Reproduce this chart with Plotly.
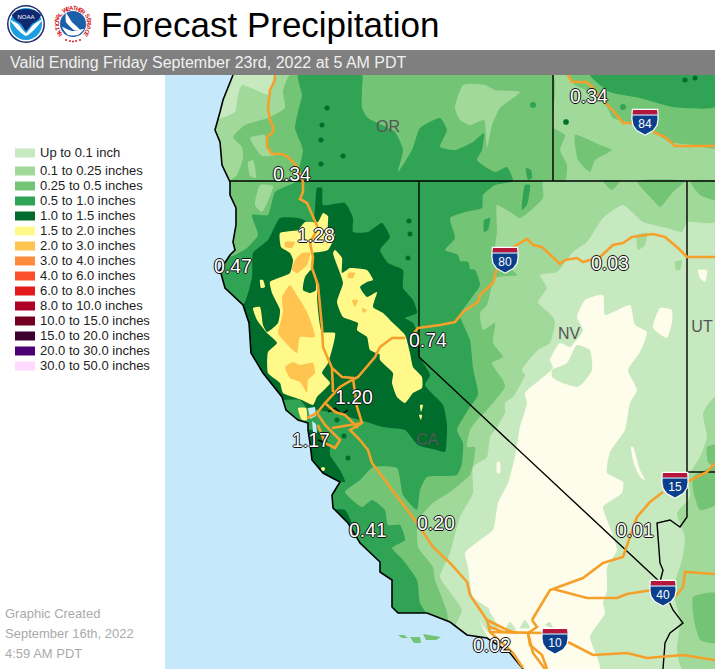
import plotly.graph_objects as go
import math

# ---------- legend ----------
LEGEND_LABELS = ["Up to 0.1 inch","0.1 to 0.25 inches","0.25 to 0.5 inches","0.5 to 1.0 inches","1.0 to 1.5 inches",
                 "1.5 to 2.0 inches","2.0 to 3.0 inches","3.0 to 4.0 inches","4.0 to 6.0 inches","6.0 to 8.0 inches",
                 "8.0 to 10.0 inches","10.0 to 15.0 inches","15.0 to 20.0 inches","20.0 to 30.0 inches","30.0 to 50.0 inches"]
LEGEND_COLORS = ["#c7e9c0","#a1d99b","#74c476","#31a354","#006d2c","#fff98a","#fec44f","#fe8c3c","#fc4e2a","#e31a1c",
                 "#b10026","#730022","#3d0030","#4a0073","#ffd9ff"]
LEGEND_Y = [153,171,186,201,216,231,246,261,276,291,306,321,336,351,366]

SEA = "#c5e8fb"
CREAM = "#fefdeb"
ROAD = "#f5a02a"

# ---------- map geometry (screen units) ----------
COAST = [(233,75),(228,88),(223,100),(220,112),(215,130),(220,142),(222,165),(230,182),(230,195),(236,208),(236,225),
         (233,242),(235,250),(230,255),(220,270),(225,288),(243,305),(249,323),(251,353),(263,373),(282,397),(286,410),
         (298,420),(308,423),(308,430),(310,443),(312,460),(323,473),(340,482),(332,495),(333,508),(348,523),(360,543),
         (380,562),(380,572),(392,580),(392,607),(398,613),(427,613),(450,622),(467,635),(487,638),(510,653),(523,669),
         (165,669),(165,75)]
BAY = [[(308,408),(315,407),(316,416),(310,419)],[(312,421),(316,424),(317,433),(313,432)]]
ISLANDS = [[(398,635),(404,635),(408,638),(402,638)],[(410,637),(420,637),(421,643),(414,643)],
           [(423,634),(433,636),(441,637),(436,640),(426,640)]]

CREAM_POLYS = [
 [(585,300),(603,295),(605,315),(630,305),(635,325),(647,332),(640,352),(628,370),(637,390),(630,403),(625,430),(610,452),
  (607,473),(623,482),(622,493),(603,507),(607,520),(617,550),(607,567),(607,590),(603,603),(605,613),(590,637),(597,657),
  (600,669),(525,669),(505,650),(490,640),(480,620),(490,610),(473,597),(468,567),(465,553),(480,540),(493,530),(498,503),
  (508,483),(515,457),(520,427),(527,403),(525,393),(553,368),(550,360),(560,343),(570,347),(583,330),(577,317)],
 [(660,308),(672,310),(672,322),(667,338),(653,328)],
 [(698,270),(707,270),(705,282),(700,278)],
 [(497,462),(500,462),(500,473),(497,473)],
 [(631,447),(633,447),(640,470),(645,480),(641,478),(634,464)],
]
LIGHT_PATCHES = [
 [(552,370),(567,363),(577,345),(590,350),(592,370),(583,383),(577,387),(560,382),(552,377)],
 [(605,505),(618,500),(632,515),(637,525),(628,530),(615,522)],
 [(480,620),(488,610),(498,628),(488,632)],
 [(505,630),(510,622),(516,630)],[(520,628),(525,620),(530,628)],[(545,625),(550,622),(553,628)],
]
BAND_025 = [
 [(455,627),(462,610),(450,592),(440,577),(450,553),(460,517),(473,493),(473,467),(487,457),(490,437),(497,427),(505,413),
  (505,403),(513,397),(525,375),(522,370),(538,350),(550,343),(555,323),(553,317),(538,302),(547,288),(540,275),(557,272),
  (573,252),(587,242),(603,218),(623,205),(643,222),(667,228),(682,232),(687,222),(715,222),(715,75),(275,75),(270,95),
  (242,85),(238,95),(235,112),(222,118),(200,130),(200,640),(455,640)],
 [(715,397),(703,413),(707,437),(700,457),(688,477),(690,497),(677,513),(685,537),(682,560),(673,590),(680,620),(677,650),
  (682,669),(715,669)],
 [(637,235),(647,233),(645,245),(638,250)],
 [(675,262),(682,260),(680,270),(676,270)],
]
BAND_05 = [
 [(290,75),(553,75),(553,127),(565,135),(560,150),(567,165),(565,181),(543,181),(543,198),(520,218),(510,212),(497,205),
  (497,232),(495,255),(517,275),(495,278),(487,305),(480,313),(483,330),(495,323),(493,343),(503,357),(492,363),(503,380),
  (505,387),(487,410),(477,420),(470,430),(467,447),(475,447),(473,465),(470,475),(450,492),(433,503),(418,520),(418,547),
  (433,567),(435,580),(447,612),(447,640),(200,640),(200,200),(228,182),(237,175),(243,158),(242,147),(233,137),(245,125),
  (268,118),(285,108),(283,92)],
 [(568,75),(575,85),(597,95),(607,107),(613,118),(640,125),(653,132),(670,142),(693,145),(715,148),(715,75)],
 [(575,135),(600,145),(612,150),(595,160),(590,172),(578,160)],
 [(637,181),(653,200),(660,207),(673,192),(685,181)],
 [(690,181),(715,181),(715,200),(700,195)],
 [(603,181),(620,181),(612,190)],
 [(693,477),(715,467),(715,505),(700,510),(693,490)],
 [(707,447),(715,445),(715,467),(708,462)],
 [(693,597),(715,593),(715,643),(700,640),(694,620)],
]
BAND_025_ON_05 = [
 [(455,108),(463,85),(485,85),(495,90),(520,92),(500,108),(492,125),(487,148),(484,120),(470,125),(460,120)],
 [(250,138),(265,135),(267,148),(275,155),(262,156)],
 [(248,162),(253,160),(256,178),(250,176)],
 [(260,185),(273,186),(262,212),(255,205)],
]
BAND_1 = [
 [(298,75),(362,75),(362,88),(362,108),(368,118),(395,132),(403,150),(398,172),(412,150),(420,128),(440,118),(447,130),
  (440,147),(455,150),(473,142),(484,133),(482,150),(477,160),(495,172),(507,167),(513,181),(495,185),(483,195),(482,208),
  (465,212),(450,218),(455,238),(445,250),(458,255),(462,268),(475,270),(480,285),(470,300),(460,315),(470,340),(473,368),
  (478,395),(468,410),(457,430),(463,443),(462,463),(457,475),(427,477),(420,490),(417,510),(403,495),(397,468),(373,467),
  (360,480),(345,492),(362,507),(372,500),(385,510),(388,525),(400,525),(405,540),(392,548),(403,560),(417,580),(420,603),
  (427,615),(425,640),(200,640),(200,270),(235,255),(247,248),(258,235),(252,215),(268,215),(275,192),(295,182),(298,172),
  (303,150),(295,128),(298,112),(302,95)],
 [(590,75),(610,92),(640,98),(673,107),(715,107),(715,75)],
 [(414,150),(432,160),(432,180),(419,180)] ,
 [(525,185),(530,185),(527,205),(522,210)],[(526,168),(531,170),(532,178),(528,180)],
 [(484,220),(490,218),(488,230),(484,232)],[(458,262),(468,262),(470,272),(460,275)],
]
BAND_15 = [
 [(317,188),(322,188),(323,205),(345,203),(353,218),(353,232),(368,232),(382,223),(390,237),(380,250),(388,263),(403,270),
  (403,288),(413,300),(417,313),(405,318),(413,323),(418,333),(420,357),(430,375),(425,385),(443,405),(447,425),(445,452),
  (437,450),(418,445),(405,430),(383,427),(360,420),(330,412),(318,410),(307,408),(300,400),(280,400),(200,400),(200,310),
  (243,305),(252,277),(253,253),(268,240),(280,218),(298,218),(313,222)],
 [(305,430),(320,432),(330,445),(330,455),(340,470),(345,482),(310,470)],
 [(333,510),(345,510),(352,525),(340,525)],
]
DARK_SPOTS_X = [327,322,321,343,321,409,410,408,348,685,695,566,337,344]
DARK_SPOTS_Y = [108,125,140,156,164,221,234,258,458,80,78,122,420,436]
GREEN_SPOTS_X = [566,475,623,533]
GREEN_SPOTS_Y = [122,288,107,105]
YELLOW = [
 [(280,233),(281,247),(290,253),(293,260),(290,273),(270,282),(272,293),(280,310),(278,323),(267,332),(263,325),(260,307),
  (253,308),(257,320),(267,333),(277,343),(268,352),(268,373),(280,383),(283,393),(302,400),(313,405),(317,397),(330,383),
  (322,373),(328,363),(335,333),(322,332),(317,297),(318,283),(312,268),(313,253),(320,252),(328,250),(332,243),(335,235),
  (328,228),(328,216),(323,213),(318,222),(305,222),(298,230)],
 [(335,250),(342,258),(342,273),(350,268),(367,270),(373,280),(367,282),(360,287),(367,297),(377,292),(373,307),(383,313),
  (393,323),(405,335),(410,353),(413,367),(422,377),(422,388),(413,393),(405,403),(397,397),(392,383),(393,373),(380,360),
  (380,353),(388,357),(370,350),(367,337),(357,330),(358,323),(343,317),(337,302),(343,283),(340,273),(333,253)],
 [(298,408),(306,408),(307,420),(302,420)],
 [(260,280),(263,280),(265,287),(261,288)],
 [(420,405),(423,405),(421,412)],[(419,415),(422,415),(421,420)],
]
DARK_ON_YELLOW = [[(303,290),(305,277),(313,268),(316,290),(310,293)]]
ORANGE = [
 [(290,285),(298,297),(307,312),(315,337),(300,337),(297,353),(283,340),(278,333),(282,317),(283,310),(282,297)],
 [(285,367),(293,362),(300,365),(313,363),(315,373),(308,380),(307,393),(300,382),(290,378)],
 [(302,253),(310,253),(307,265),(297,273),(292,270),(295,260)],
 [(285,242),(295,242),(292,248),(285,247)],
 [(348,273),(355,273),(353,278),(348,278)],
 [(352,300),(358,300),(355,307)],
 [(362,308),(367,310),(363,313)],
]

ROADS = [
 [(275,75),(275,80),(270,90),(268,108),(270,120),(273,127),(273,132),(267,137),(267,147),(272,154),(282,154),(288,157),
  (298,168),(303,182),(303,192),(300,199),(307,203),(313,217),(318,228),(310,243),(313,257),(312,268),(318,285),(322,327),
  (323,347),(332,368),(342,377),(353,378),(357,407),(362,423),(350,430),(360,440),(368,450),(372,463),(397,497),(417,523),
  (433,547),(450,563),(467,582),(470,595),(487,620),(490,632),(543,633)],
 [(332,368),(333,392)],
 [(405,338),(392,338),(380,347),(375,357),(358,377),(352,380),(340,387),(325,403),(317,413),(307,418)],
 [(325,403),(335,412),(345,415),(358,428)],
 [(317,413),(325,425),(340,440),(335,448),(325,443),(318,425)],
 [(332,428),(362,423)],
 [(410,338),(418,328),(440,325),(455,322),(463,312),(478,302),(480,295),(493,283),(497,268)],
 [(512,248),(527,239),(533,245),(542,247),(560,264),(565,260),(577,258),(583,262),(600,257),(613,245),(623,243),(632,237),
  (653,234),(665,237),(678,248),(687,257),(715,257)],
 [(568,75),(572,82),(587,82),(593,88),(605,102),(615,113),(623,123),(635,123)],
 [(653,132),(665,137),(675,146),(715,146)],
 [(568,642),(593,655),(627,653),(647,658),(683,655),(715,660)],
 [(532,620),(550,590),(583,578),(603,563),(623,557),(630,538),(637,517),(650,502),(663,492)],
 [(687,482),(707,472),(715,463)],
 [(553,589),(587,598),(617,598),(627,594),(652,590)],
 [(675,597),(683,587),(685,572),(715,574)],
 [(532,620),(537,627),(528,633),(530,645),(542,655),(547,669)],
 [(528,633),(533,653),(545,669)],
 [(487,620),(507,630),(517,633)],
 [(488,626),(503,632)],
 [(490,632),(513,653),(523,668)],
]
BORDERS = [
 [(230,181),(715,181)],
 [(419,181),(419,357),(660,582)],
 [(553,75),(553,181)],
 [(687,181),(687,517),(680,527),(670,520),(657,523),(658,537),(660,563),(663,570),(660,582),(673,610),(683,623),(670,633),(665,643),(663,669)],
 [(687,472),(715,472)],
 [(328,412),(335,408),(342,414),(348,410)],
 [(318,440),(330,445)],
]

VALUE_TEXT = ["0.34","0.34","1.28","0.47","0.03","0.74","1.20","1.17","0.41","0.20","0.01","0.02"]
VALUE_X = [292,589,316,233,610,428,354,311,368,436,635,492]
VALUE_Y = [175,97,236,267,264,341,398,441,531,524,531,646]
STATE_TEXT = ["OR","NV","CA","UT"]
STATE_X = [388,569,427,702]
STATE_Y = [127,334,440,327]
SHIELD_TEXT = ["84","80","15","40","10"]
SHIELD_X = [645,505,675,663,555]
SHIELD_Y = [122,260,485,593,641]
FOOT_TEXT = ["Graphic Created","September 16th, 2022","4:59 AM PDT"]
FOOT_Y = [614,634,654]

# ---------- helpers ----------
fig = go.Figure()
def polys(lst, color, spline=True):
    xs, ys = [], []
    for p in lst:
        xs += [a for a, _ in p] + [p[0][0], None]
        ys += [b for _, b in p] + [p[0][1], None]
    fig.add_trace(go.Scatter(x=xs, y=ys, mode="lines", fill="toself", fillcolor=color,
                             line=dict(width=0, color=color, shape="spline" if spline else "linear", smoothing=0.5),
                             hoverinfo="skip", showlegend=False))
def lines(lst, color, width):
    xs, ys = [], []
    for p in lst:
        xs += [a for a, _ in p] + [None]
        ys += [b for _, b in p] + [None]
    fig.add_trace(go.Scatter(x=xs, y=ys, mode="lines", line=dict(width=width, color=color),
                             hoverinfo="skip", showlegend=False))
def spots(x, y, color, size):
    fig.add_trace(go.Scatter(x=x, y=y, mode="markers", marker=dict(size=size, color=color, line=dict(width=0)),
                             hoverinfo="skip", showlegend=False))
def text(x, y, t, size, color, family="Liberation Sans", pos="middle center", shadow=None, dy=1.2):
    f = dict(size=size, color=color, family=family)
    if shadow: f["shadow"] = shadow
    fig.add_trace(go.Scatter(x=x, y=[v + dy for v in y], text=t, mode="text", textposition=pos, textfont=f,
                             hoverinfo="skip", showlegend=False))

# ---------- map layers ----------
polys([[(165,75),(715,75),(715,669),(165,669)]], LEGEND_COLORS[0], False)
polys(CREAM_POLYS, CREAM)
polys(LIGHT_PATCHES, LEGEND_COLORS[0])
polys(BAND_025, LEGEND_COLORS[1])
polys(BAND_05, LEGEND_COLORS[2])
polys(BAND_025_ON_05, LEGEND_COLORS[1])
polys(BAND_1, LEGEND_COLORS[3])
spots(GREEN_SPOTS_X, GREEN_SPOTS_Y, LEGEND_COLORS[3], 6)
polys(BAND_15, LEGEND_COLORS[4])
spots(DARK_SPOTS_X, DARK_SPOTS_Y, LEGEND_COLORS[4], 5)
polys(YELLOW, LEGEND_COLORS[5])
polys(DARK_ON_YELLOW, LEGEND_COLORS[4])
polys(ORANGE, LEGEND_COLORS[6])
spots([323], [469], LEGEND_COLORS[5], 4)

polys([COAST], SEA, False)
polys(BAY, SEA, False)
polys(ISLANDS, LEGEND_COLORS[2], False)
lines([COAST[:44]], "#000000", 1.6)
lines(BORDERS, "#000000", 1.4)
lines(ROADS, ROAD, 2.6)

# ---------- shields ----------
SHIELD_OUT = [(-12,-12),(12,-12),(12.5,-3),(11.5,3),(8,8),(0,12.5),(-8,8),(-11.5,3),(-12.5,-3)]
SHIELD_TOP = [(-12,-12),(12,-12),(12.3,-7.5),(-12.3,-7.5)]
for cx, cy in zip(SHIELD_X, SHIELD_Y):
    polys([[(cx+a*1.1, cy+b*1.1) for a, b in SHIELD_OUT]], "#ffffff", False)
    polys([[(cx+a, cy+b) for a, b in SHIELD_OUT]], "#0b3f8c", False)
    polys([[(cx+a, cy+b) for a, b in SHIELD_TOP]], "#b5163a", False)
    lines([[(cx-12.3, cy-7), (cx+12.3, cy-7)]], "#ffffff", 1)
text(SHIELD_X, [y+1.5 for y in SHIELD_Y], SHIELD_TEXT, 12, "#ffffff", "Liberation Sans")

# ---------- map labels ----------
text(STATE_X, STATE_Y, STATE_TEXT, 16, "#555555")
OUTLINE = "-1px 0 0 #111,1px 0 0 #111,0 -1px 0 #111,0 1px 0 #111,0 0 1px #000"
text(VALUE_X, VALUE_Y, VALUE_TEXT, 19.5, "#ffffff", shadow=OUTLINE)

# ---------- page furniture ----------
polys([[(0,50),(715,50),(715,75),(0,75)]], "#7f7f7f", False)
text([10], [62.5], ["Valid Ending Friday September 23rd, 2022 at 5 AM PDT"], 16, "#f0f0f0", pos="middle right")
text([101], [27], ["Forecast Precipitation"], 35, "#000000", pos="middle right")
text([5]*3, FOOT_Y, FOOT_TEXT, 13, "#aaaaaa", pos="middle right")
text([40]*15, LEGEND_Y, LEGEND_LABELS, 13, "#222222", pos="middle right")
for y, c in zip(LEGEND_Y, LEGEND_COLORS):
    lines([[(15,y),(35,y)]], c, 9)

# ---------- logos ----------
spots([26], [24], "#1c2f6e", 38)
spots([26], [24], "#ffffff", 35)
spots([26], [24], "#1c9fe0", 32)
polys([[(12,15),(18,10),(26,9),(34,10),(41,15),(38,20),(32,24),(26,31),(21,24),(15,20)]], "#0f2a72")
polys([[(10,20),(18,24),(26,33),(33,25),(43,19),(34,30),(26,36),(18,30)]], "#ffffff")
text([26], [17], ["NOAA"], 6, "#ffffff", "Liberation Sans", dy=0)
spots([73], [24], "#ffffff", 38)
spots([73], [24], "#1a5fa8", 26)
polys([[(66,13),(72,22),(80,30),(74,30),(66,22)]], "#ffffff")
polys([[(62,27),(72,31),(84,29),(78,35),(68,35)]], "#ffffff")
RING = "NATIONAL WEATHER SERVICE"
for i, ch in enumerate(RING):
    ang = 140 + i * 260 / (len(RING) - 1)
    fig.add_annotation(x=73 + 16.2*math.cos(math.radians(ang)), y=24 + 16.2*math.sin(math.radians(ang)),
                       text="<b>%s</b>" % ch, showarrow=False, textangle=ang+90, xref="x", yref="y",
                       font=dict(size=6, color="#d62027", family="Liberation Sans"))
spots([66,70,73,76,80], [40,41,41.5,41,40], "#d62027", 2)

fig.update_layout(width=715, height=669, margin=dict(l=0, r=0, t=0, b=0), autosize=False,
                  paper_bgcolor="#ffffff", plot_bgcolor="#ffffff", showlegend=False,
                  xaxis=dict(range=[0,715], visible=False, fixedrange=True),
                  yaxis=dict(range=[669,0], visible=False, fixedrange=True))
fig.write_html("out.html", config={"displayModeBar": False},
               default_width="715px", default_height="669px",
               post_script="document.body.style.margin='0';")
